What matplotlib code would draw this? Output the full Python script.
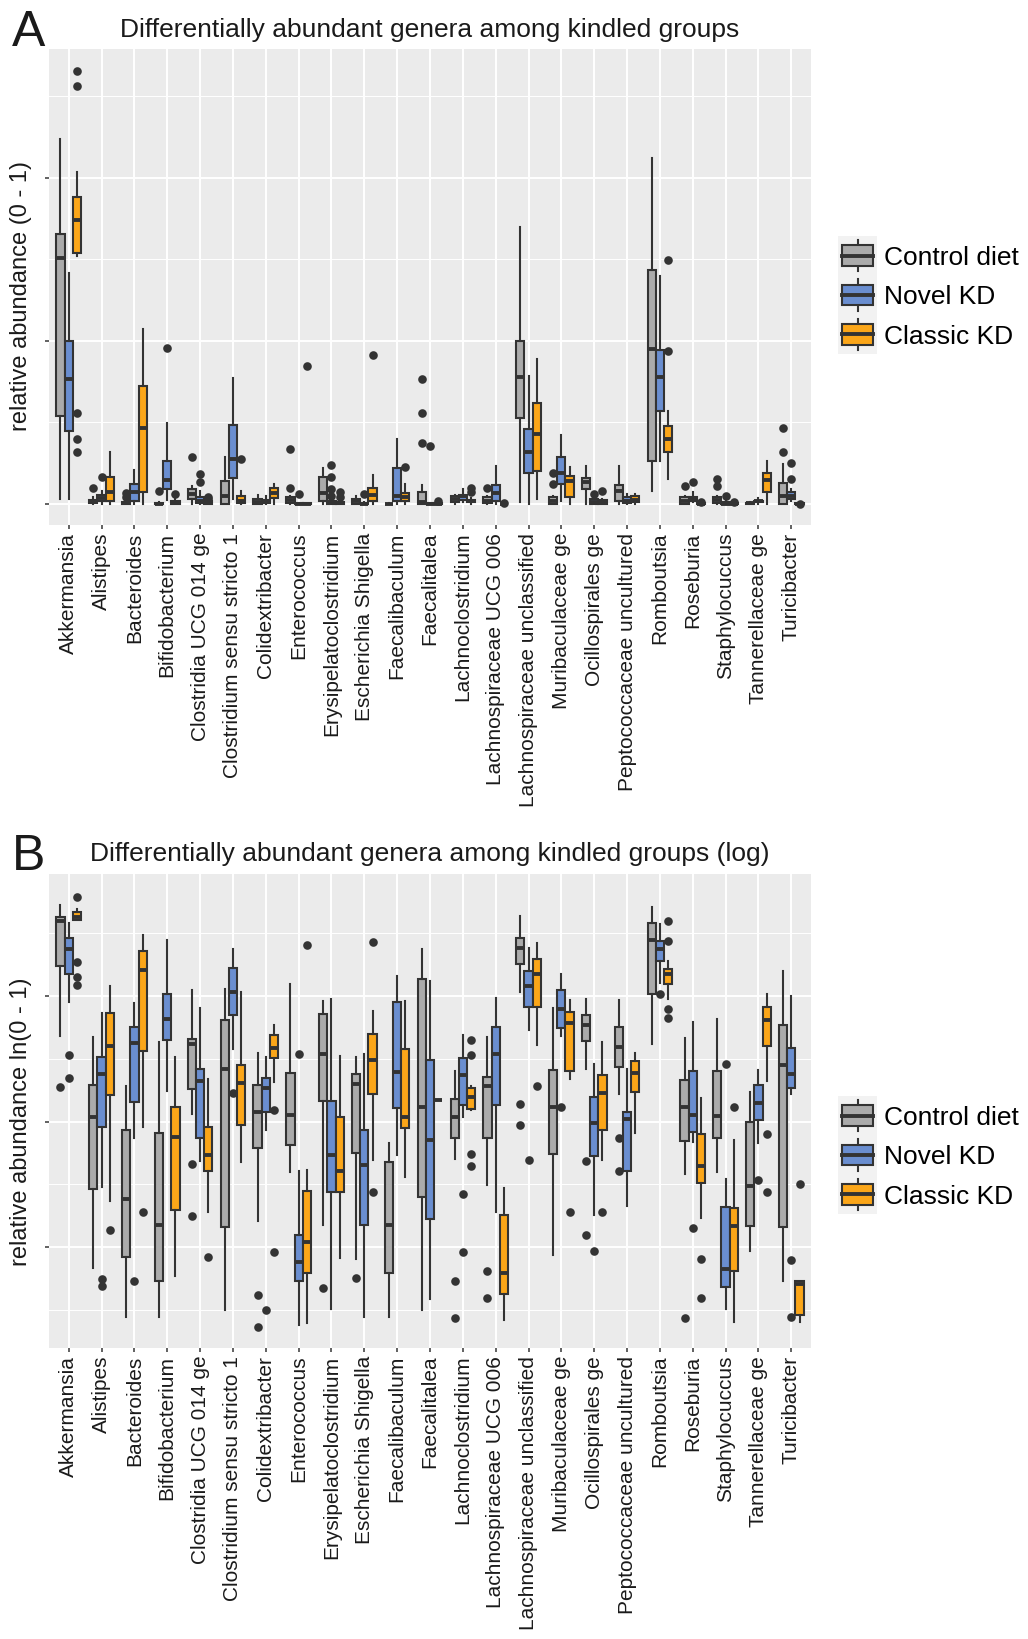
import matplotlib
matplotlib.use("Agg")
import matplotlib.pyplot as plt
from matplotlib.patches import Rectangle, Patch
from matplotlib.lines import Line2D
from matplotlib.legend_handler import HandlerBase

plt.rcParams['font.family'] = ['Liberation Sans', 'DejaVu Sans']

# ---------------- data ----------------
genera = ["Akkermansia", "Alistipes", "Bacteroides", "Bifidobacterium",
          "Clostridia UCG 014 ge", "Clostridium sensu stricto 1", "Colidextribacter",
          "Enterococcus", "Erysipelatoclostridium", "Escherichia Shigella",
          "Faecalibaculum", "Faecalitalea", "Lachnoclostridium",
          "Lachnospiraceae UCG 006", "Lachnospiraceae unclassified", "Muribaculaceae ge",
          "Ocillospirales ge", "Peptococcaceae uncultured", "Romboutsia", "Roseburia",
          "Staphylocuccus", "Tannerellaceae ge", "Turicibacter"]
groups = ["Control diet", "Novel KD", "Classic KD"]

# Panel A: relative abundance (percent); tuples = (whisker low, Q1, median, Q3, whisker high)
A_ctrl = [(0.6, 10.8, 30.2, 33.1, 44.7), (0, 0.1, 0.2, 0.5, 0.8), (0, 0, 0.05, 0.2, 0.4),
          (0, 0, 0, 0.1, 0.2), (0, 0.6, 1.2, 1.8, 2.2), (0, 0, 0.9, 2.8, 5.7),
          (0, 0, 0.2, 0.6, 1.1), (0, 0.1, 0.5, 0.8, 1.0), (0, 0.4, 1.3, 3.3, 4.4),
          (0, 0, 0.3, 0.6, 1.0), (0, 0, 0, 0, 0.05), (0, 0, 0.2, 1.4, 2.3),
          (0, 0.2, 0.6, 1.0, 1.1), (0, 0.1, 0.4, 0.8, 1.0), (0.2, 10.5, 15.5, 20.0, 34.0),
          (0, 0, 0.4, 0.8, 1.0), (0, 1.8, 2.7, 3.2, 4.7), (0, 0.4, 1.6, 2.3, 4.6),
          (1.6, 5.3, 19.0, 28.7, 42.4), (0, 0, 0.4, 0.8, 1.0), (0, 0.1, 0.5, 0.8, 1.0),
          (0, 0, 0.05, 0.1, 0.2), (0, 0, 1.0, 2.6, 4.9)]
A_ctrl_out = [[], [1.9], [0.8, 1.3], [1.6], [5.7], [], [], [6.7, 1.9], [], [], [],
              [15.3, 11.2, 7.5], [], [1.9], [], [3.8, 2.4], [], [], [], [2.2], [3.1, 2.2],
              [], [9.3, 6.4]]

A_novel = [(0.6, 8.9, 15.3, 20.0, 28.3), (0, 0.3, 0.7, 1.1, 1.6), (0, 0.3, 1.5, 2.4, 4.1),
           (0.5, 1.8, 2.9, 5.2, 9.9), (0, 0.1, 0.4, 0.8, 1.6), (0.6, 3.2, 5.5, 9.7, 15.4),
           (0, 0.1, 0.3, 0.5, 1.0), (0, 0, 0, 0.05, 0.1), (0, 0, 0.1, 0.3, 0.5),
           (0, 0, 0, 0.1, 0.2), (0, 0.3, 0.9, 4.4, 8.0), (0, 0, 0, 0.05, 0.05),
           (0.2, 0.5, 1.0, 1.1, 1.8), (0, 0.3, 1.3, 2.3, 4.7), (0, 3.8, 6.4, 9.2, 15.7),
           (0.4, 2.4, 3.8, 5.7, 8.4), (0, 0, 0.2, 0.6, 0.8), (0, 0.1, 0.4, 0.8, 1.2),
           (5.2, 11.4, 15.5, 18.9, 27.9), (0.2, 0.4, 0.6, 0.8, 1.4), (0, 0, 0, 0.2, 0.4),
           (0, 0.2, 0.3, 0.4, 0.7), (0.4, 0.6, 1.0, 1.4, 1.8)]
A_novel_out = [[], [3.3], [], [19.1], [3.7, 2.7], [], [], [1.2], [4.8, 3.3, 1.8, 1.0],
               [1.2], [], [7.1], [], [], [], [], [1.2], [], [], [2.7], [1.0], [], [5.0, 3.0]]

A_classic = [(30.4, 30.8, 34.8, 37.6, 40.7), (0, 0.4, 1.5, 3.3, 6.3), (0, 1.5, 9.3, 14.4, 21.4),
             (0, 0, 0.1, 0.4, 0.6), (0, 0, 0.1, 0.3, 0.5), (0, 0.1, 0.4, 1.0, 1.6),
             (0, 0.7, 1.3, 2.0, 2.4), (0, 0, 0, 0.05, 0.05), (0, 0, 0.05, 0.2, 0.3),
             (0, 0.3, 1.1, 2.0, 3.5), (0, 0.3, 0.8, 1.3, 2.4), (0, 0, 0, 0.05, 0.05),
             (0, 0.2, 0.4, 0.5, 0.7), (0, 0, 0, 0, 0), (0.6, 4.0, 8.6, 12.4, 17.8),
             (0, 0.8, 2.8, 3.4, 4.5), (0, 0, 0.2, 0.5, 0.6), (0, 0.2, 0.5, 1.0, 1.2),
             (3.0, 6.4, 8.0, 9.5, 11.4), (0, 0, 0, 0.05, 0.1), (0, 0, 0, 0.05, 0.1),
             (0, 1.5, 2.9, 3.8, 5.2), (0, 0, 0, 0.05, 0.05)]
A_classic_out = [[53.1, 51.2, 11.2, 7.9, 6.4], [], [], [1.2], [0.8, 0.6], [5.5], [], [16.9],
                 [1.4, 0.8], [18.2], [4.5], [0.3], [1.4, 1.9], [0.1], [], [], [1.6], [],
                 [29.9, 18.7], [0.2], [0.2], [], [0.0]]

# Panel B: ln relative abundance
B_ctrl = [(-3.95, -2.28, -1.20, -1.11, -0.81), (-9.50, -7.61, -5.89, -5.13, -3.98),
          (-10.67, -9.24, -7.85, -6.20, -5.15), (-10.67, -9.81, -8.46, -6.26, -4.10),
          (-5.82, -5.21, -4.15, -4.03, -2.86), (-10.51, -8.52, -4.73, -3.57, -2.84),
          (-8.37, -6.64, -5.78, -5.12, -4.35), (-7.20, -6.56, -5.85, -4.84, -2.71),
          (-8.48, -5.50, -4.39, -3.42, -3.12), (-9.28, -6.74, -5.11, -4.87, -4.45),
          (-10.67, -9.62, -8.46, -6.97, -6.50), (-10.51, -7.79, -5.66, -2.58, -1.87),
          (-6.90, -6.40, -5.89, -5.45, -4.80), (-7.52, -6.40, -5.15, -4.93, -3.97),
          (-2.90, -2.24, -1.86, -1.62, -1.09), (-9.18, -6.78, -5.66, -4.76, -3.28),
          (-4.73, -4.07, -3.69, -3.45, -3.06), (-5.35, -4.69, -4.21, -3.73, -3.08),
          (-4.15, -2.94, -1.65, -1.24, -0.87), (-7.25, -6.47, -5.64, -5.00, -3.99),
          (-7.20, -6.38, -5.86, -4.79, -3.54), (-9.10, -8.50, -7.53, -6.00, -5.28),
          (-9.80, -8.52, -4.65, -3.70, -2.39)]
B_ctrl_out = [[-5.17], [], [], [], [-7.01, -8.25], [], [-10.15, -10.91], [], [-9.98],
              [-9.74], [], [], [-9.80, -10.69], [-9.57, -10.21], [-5.58, -6.08], [],
              [-6.95, -8.72], [-6.40, -7.17], [], [-10.69], [], [], []]

B_novel = [(-3.14, -2.46, -1.87, -1.62, -1.25), (-7.57, -6.12, -4.87, -4.45, -3.41),
           (-6.40, -5.53, -4.11, -3.73, -3.17), (-5.27, -4.05, -3.54, -2.96, -1.66),
           (-6.93, -6.40, -5.03, -4.75, -3.28), (-4.26, -3.44, -2.90, -2.32, -1.87),
           (-6.20, -5.76, -5.20, -4.96, -4.45), (-10.87, -9.80, -9.36, -8.71, -7.17),
           (-10.47, -7.67, -6.80, -5.50, -3.06), (-10.67, -8.47, -7.04, -6.20, -4.38),
           (-6.80, -5.68, -4.81, -3.14, -2.51), (-10.23, -8.33, -6.43, -4.53, -2.64),
           (-5.88, -5.60, -4.89, -4.49, -3.94), (-8.15, -5.61, -4.39, -3.73, -3.04),
           (-3.81, -3.25, -2.75, -2.40, -1.85), (-3.95, -3.76, -3.30, -2.86, -2.48),
           (-8.23, -6.82, -6.02, -5.40, -4.61), (-8.01, -7.17, -5.93, -5.77, -4.75),
           (-2.68, -2.17, -1.87, -1.69, -1.28), (-6.48, -6.24, -5.85, -4.79, -3.61),
           (-10.47, -9.96, -9.53, -8.05, -7.36), (-6.50, -5.97, -5.56, -5.12, -4.76),
           (-5.34, -5.20, -4.85, -4.25, -3.00)]
B_novel_out = [[-4.41, -4.95], [-9.77, -9.93], [-9.80], [], [], [-5.31], [-10.49], [-4.39],
               [], [], [], [], [-7.73, -9.11], [], [-6.92], [-5.66], [-9.10], [], [-2.94],
               [-8.54], [-4.61], [-7.40], [-9.30, -10.66]]

B_classic = [(-1.19, -1.19, -1.11, -0.99, -0.92), (-7.89, -5.37, -4.18, -3.41, -2.75),
             (-6.12, -4.31, -2.38, -1.93, -1.55), (-9.70, -8.10, -6.36, -5.65, -4.45),
             (-8.17, -7.17, -6.80, -6.12, -4.97), (-6.97, -6.08, -5.08, -4.65, -2.90),
             (-5.05, -4.47, -4.23, -3.93, -3.69), (-10.81, -9.61, -8.88, -7.65, -7.15),
             (-9.26, -7.67, -7.17, -5.90, -4.43), (-6.92, -5.34, -4.53, -3.91, -3.36),
             (-7.33, -6.16, -5.88, -4.27, -3.12), (-5.49, -5.49, -5.49, -5.49, -5.49),
             (-5.72, -5.69, -5.42, -5.19, -5.15), (-10.75, -10.13, -9.62, -8.22, -7.59),
             (-4.17, -3.25, -2.46, -2.10, -1.73), (-4.97, -4.80, -3.64, -3.37, -3.10),
             (-6.92, -6.20, -5.32, -4.89, -4.10), (-6.26, -5.28, -4.83, -4.55, -4.35),
             (-3.06, -2.72, -2.48, -2.34, -2.17), (-8.30, -7.47, -7.05, -6.30, -5.44),
             (-10.79, -9.57, -8.50, -8.07, -6.44), (-5.03, -4.19, -3.56, -3.26, -2.96),
             (-10.79, -10.63, -9.88, -9.80, -9.80)]
B_classic_out = [[-0.64, -2.18, -2.54, -2.74], [-8.58], [-8.17], [], [-9.24], [],
                 [-5.73, -9.11], [-1.78], [], [-7.67, -1.70], [], [], [-4.05, -4.41, -6.78, -7.07],
                 [], [-5.15], [-8.15], [-8.17], [], [-1.20, -1.67, -3.30, -3.52],
                 [-9.28, -10.22], [-5.66], [-6.30, -7.67], [-7.48]]

# ---------------- style ----------------
fills = ["#ABABAB", "#6A8ED0", "#FBA619"]
EDGE = "#333333"
PX = 72.0 / 100.0  # points per pixel at dpi 100


def stats(rows, outs):
    return [dict(whislo=r[0], q1=r[1], med=r[2], q3=r[3], whishi=r[4], fliers=o)
            for r, o in zip(rows, outs)]


def draw_panel(ax, series, ylim, majors, minors):
    ax.set_facecolor("#EBEBEB")
    n = len(genera)
    offsets = [-0.25, 0.0, 0.25]
    for (rows, outs), off, fc in zip(series, offsets, fills):
        ax.bxp(stats(rows, outs), positions=[i + off for i in range(n)], widths=0.25,
               patch_artist=True, showcaps=False, manage_ticks=False,
               boxprops=dict(facecolor=fc, edgecolor=EDGE, linewidth=1.5),
               whiskerprops=dict(color=EDGE, linewidth=1.5),
               medianprops=dict(color=EDGE, linewidth=2.8, solid_capstyle='butt'),
               flierprops=dict(marker='o', markerfacecolor=EDGE, markeredgecolor='none',
                               markersize=6.2))
    ax.set_xlim(-0.6, n - 1 + 0.6)
    ax.set_ylim(*ylim)
    ax.set_xticks(range(n))
    ax.set_xticklabels(genera, rotation=90, fontsize=15, color="#1A1A1A")
    ax.set_yticks(majors)
    ax.set_yticks(minors, minor=True)
    ax.tick_params(axis='y', which='major', labelleft=False, length=4 * PX,
                   width=1.5 * PX, color=EDGE)
    ax.tick_params(axis='y', which='minor', length=0)
    ax.tick_params(axis='x', length=4 * PX, width=1.5 * PX, color=EDGE, pad=2)
    ax.set_axisbelow(True)
    ax.grid(which='major', color='white', linewidth=1.4)
    ax.grid(which='minor', axis='y', color='white', linewidth=0.7)
    for s in ax.spines.values():
        s.set_visible(False)


class BoxKeyHandler(HandlerBase):
    def create_artists(self, legend, orig_handle, xdescent, ydescent, width, height,
                       fontsize, trans):
        x0, y0 = -xdescent, -ydescent
        fc = orig_handle.get_facecolor()
        bg = Rectangle((x0, y0), width, height, facecolor="#F2F2F2", edgecolor='none',
                       transform=trans)
        cx = x0 + width / 2
        wl = Line2D([cx, cx], [y0 + 0.1 * height, y0 + 0.9 * height], color=EDGE, lw=1.5,
                    transform=trans)
        box = Rectangle((x0 + 0.1 * width, y0 + 0.24 * height), 0.8 * width, 0.52 * height,
                        facecolor=fc, edgecolor=EDGE, lw=1.5, transform=trans)
        med = Line2D([x0 + 0.1 * width, x0 + 0.9 * width], [y0 + 0.5 * height] * 2,
                     color=EDGE, lw=2.8, transform=trans)
        return [bg, wl, box, med]


W, H = 1028, 1640
fig = plt.figure(figsize=(W / 100, H / 100), dpi=100)
fig.patch.set_facecolor('white')


def add_axes(left, top, right, bottom):
    return fig.add_axes([left / W, 1 - bottom / H, (right - left) / W, (bottom - top) / H])


axA = add_axes(49, 50, 811, 526)
draw_panel(axA, [(A_ctrl, A_ctrl_out), (A_novel, A_novel_out), (A_classic, A_classic_out)],
           (-2.6, 55.8), [0, 20, 40], [10, 30, 50])
axA.set_ylabel("relative abundance (0 - 1)", fontsize=17, color="#1A1A1A")
axA.yaxis.set_label_coords((32 - 49) / 762, (526 - 296) / 476)

axB = add_axes(49, 875, 811, 1349)
draw_panel(axB, [(B_ctrl, B_ctrl_out), (B_novel, B_novel_out), (B_classic, B_classic_out)],
           (-11.41, -0.08), [-9, -6, -3], [-10.5, -7.5, -4.5, -1.5])
axB.set_ylabel("relative abundance ln(0 - 1)", fontsize=17, color="#1A1A1A")
axB.yaxis.set_label_coords((32 - 49) / 762, (1349 - 1122) / 474)

fig.text(12 / W, 1 - 46 / H, "A", fontsize=36, ha='left', va='baseline', color="#1A1A1A")
fig.text(430 / W, 1 - 37 / H, "Differentially abundant genera among kindled groups",
         fontsize=19, ha='center', va='baseline', color="#1A1A1A")
fig.text(12 / W, 1 - 870 / H, "B", fontsize=36, ha='left', va='baseline', color="#1A1A1A")
fig.text(430 / W, 1 - 861 / H, "Differentially abundant genera among kindled groups (log)",
         fontsize=19, ha='center', va='baseline', color="#1A1A1A")

handles = [Patch(facecolor=c) for c in fills]
fs_px = 19 / PX
for yc in (296, 1156):
    fig.legend(handles, groups, loc='center left', bbox_to_anchor=(838 / W, 1 - yc / H),
               bbox_transform=fig.transFigure, frameon=False, borderpad=0,
               borderaxespad=0, handlelength=39 / fs_px, handleheight=1.925,
               handletextpad=7 / fs_px, labelspacing=0, fontsize=19,
               handler_map={Patch: BoxKeyHandler()})

fig.savefig("out.png", dpi=100)
